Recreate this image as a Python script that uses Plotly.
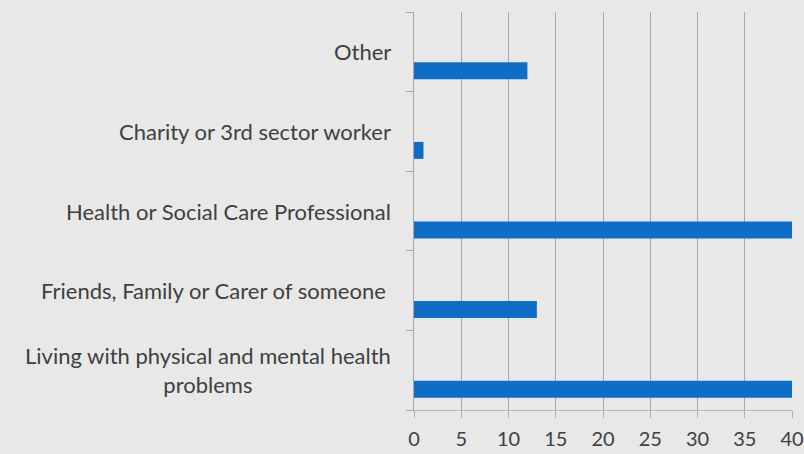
import plotly.graph_objects as go

categories = [
    "Living with physical and mental health<br>problems",
    "Friends, Family or Carer of someone ",
    "Health or Social Care Professional",
    "Charity or 3rd sector worker",
    "Other",
]
values = [40, 13, 40, 1, 12]
x_ticks = [0, 5, 10, 15, 20, 25, 30, 35, 40]

BG = "#e8e8e8"
TXT = "#404040"
FONT = "Lato"

fig = go.Figure()
fig.add_trace(go.Bar(
    x=values,
    y=categories,
    orientation="h",
    marker=dict(color="#0f6dc8", line=dict(width=0)),
    width=0.213,
    offset=-0.345,
    hoverinfo="x+y",
))

for c in categories:
    fig.add_annotation(
        x=0, xref="paper", y=c, yref="y",
        text=c, showarrow=False,
        xanchor="right", yanchor="middle", align="center",
        xshift=-21,
        font=dict(family=FONT, size=22, color=TXT),
    )

fig.update_layout(
    width=804, height=454,
    margin=dict(l=414, r=12, t=12, b=44, autoexpand=False),
    paper_bgcolor=BG, plot_bgcolor=BG,
    showlegend=False,
    bargap=0.5,
)
fig.update_xaxes(
    range=[0, 40],
    automargin=False,
    tickmode="array", tickvals=x_ticks,
    showgrid=True, gridcolor="#a8a8a8", gridwidth=1,
    zeroline=False,
    showline=True, linecolor="#b8b8b8", linewidth=1,
    ticks="outside", ticklen=7, tickcolor="#b0b0b0",
    ticklabelstandoff=4,
    ticklabeloverflow="allow",
    tickfont=dict(family=FONT, size=20, color=TXT),
    fixedrange=True,
)
fig.update_yaxes(
    type="category",
    automargin=False,
    categoryorder="array", categoryarray=categories,
    range=[-0.5, len(categories) - 0.5],
    showticklabels=False,
    showgrid=False, zeroline=False,
    showline=True, linecolor="#a8a8a8", linewidth=1,
    ticks="outside", ticklen=7, tickcolor="#a8a8a8",
    tickson="boundaries",
    fixedrange=True,
)

fig.write_html(
    "out.html",
    config={"displayModeBar": False},
    post_script="document.body.style.margin='0';document.body.style.background='#e8e8e8';",
)
